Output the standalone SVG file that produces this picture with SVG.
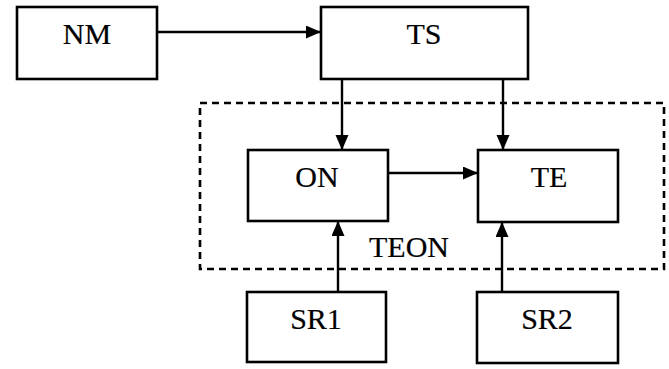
<svg xmlns="http://www.w3.org/2000/svg" width="669" height="369" viewBox="0 0 669 369">
<style>
.box{fill:#fff;stroke:#000;stroke-width:2.6}
.lbl{font-family:"Liberation Serif","Times New Roman",serif;font-size:30px;fill:#000;stroke:#000;stroke-width:0.2;text-anchor:middle}
.conn{stroke:#000;stroke-width:2.4;fill:none;marker-end:url(#ah)}
.group{fill:none;stroke:#000;stroke-width:2.6;stroke-dasharray:7 5}
</style>
<defs>
<marker id="ah" markerUnits="userSpaceOnUse" markerWidth="16" markerHeight="14" refX="15" refY="6.5" orient="auto">
<path d="M0,0 L15,6.5 L0,13 Z" fill="#000"/>
</marker>
</defs>
<g id="TEON">
<rect class="group" x="200" y="103" width="464" height="166"/>
<text class="lbl" x="409" y="257">TEON</text>
</g>
<g id="NM"><rect class="box" x="17" y="7" width="140" height="72"/><text class="lbl" x="87" y="44">NM</text></g>
<g id="TS"><rect class="box" x="321" y="7" width="207" height="72"/><text class="lbl" x="424" y="44">TS</text></g>
<g id="ON"><rect class="box" x="248" y="150" width="140" height="71"/><text class="lbl" x="317" y="187">ON</text></g>
<g id="TE"><rect class="box" x="478" y="150" width="140" height="72"/><text class="lbl" x="549" y="187">TE</text></g>
<g id="SR1"><rect class="box" x="247" y="292" width="139" height="70"/><text class="lbl" x="316" y="329">SR1</text></g>
<g id="SR2"><rect class="box" x="477" y="292" width="141" height="71"/><text class="lbl" x="547" y="329">SR2</text></g>
<g id="connectors">
<line class="conn" x1="157" y1="32" x2="321" y2="32"/>
<line class="conn" x1="342" y1="79" x2="342" y2="150"/>
<line class="conn" x1="503" y1="79" x2="503" y2="150"/>
<line class="conn" x1="388" y1="173" x2="478" y2="173"/>
<line class="conn" x1="338" y1="292" x2="338" y2="221"/>
<line class="conn" x1="502" y1="292" x2="502" y2="222"/>
</g>
</svg>
